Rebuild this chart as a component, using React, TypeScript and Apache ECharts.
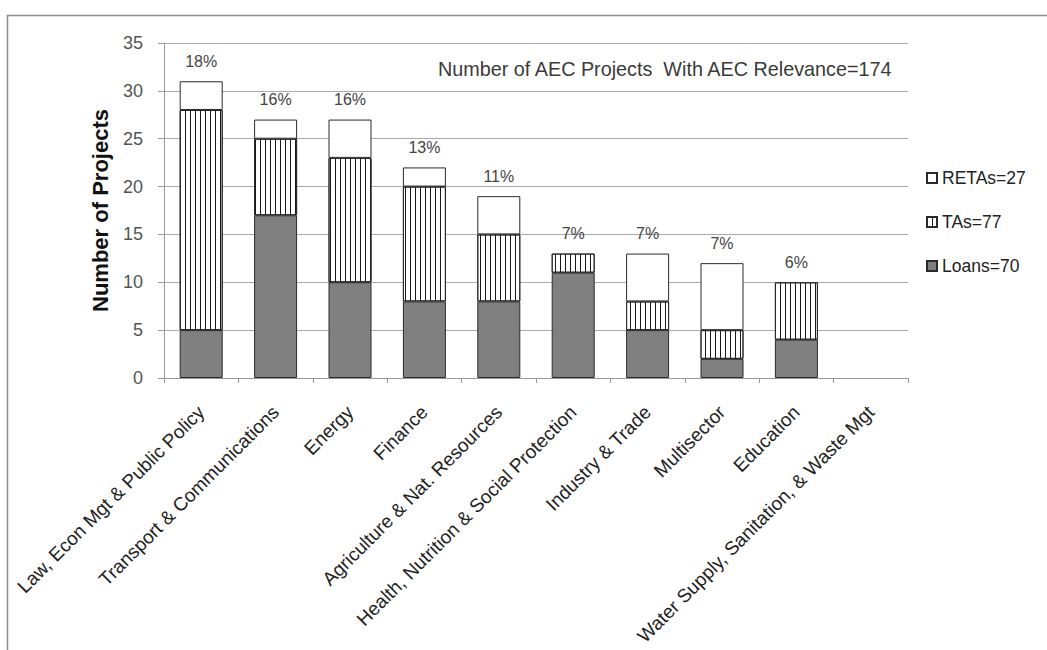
import React, { useEffect, useRef } from "react";
import * as echarts from "echarts";

// Sectors, in the order they are plotted
const sectors: string[] = [
  "Law, Econ Mgt & Public Policy",
  "Transport & Communications",
  "Energy",
  "Finance",
  "Agriculture & Nat. Resources",
  "Health, Nutrition & Social Protection",
  "Industry & Trade",
  "Multisector",
  "Education",
  "Water Supply, Sanitation, & Waste Mgt",
];

// Project counts per sector, by type
const loans: number[] = [5, 17, 10, 8, 8, 11, 5, 2, 4, 0];
const tas: number[] = [23, 8, 13, 12, 7, 2, 3, 3, 6, 0];
const retas: number[] = [3, 2, 4, 2, 4, 0, 5, 7, 0, 0];

// Value axis ticks
const yTicks: number[] = [0, 5, 10, 15, 20, 25, 30, 35];

const sum = (a: number[]) => a.reduce((s, v) => s + v, 0);
const totals = sectors.map((_, i) => loans[i] + tas[i] + retas[i]);
const grandTotal = sum(totals);

const FONT = "Liberation Sans, Arial, sans-serif";
const EDGE = "#2a2a2a";

// zero-height segments get no outline so they leave no stray line on the axis
const withEdges = (vals: number[]) =>
  vals.map((v) => (v === 0 ? { value: v, itemStyle: { borderWidth: 0 } } : v));

export default function App() {
  const ref = useRef<HTMLDivElement>(null);

  useEffect(() => {
    if (!ref.current) return;
    const chart = echarts.init(ref.current, null, { renderer: "svg" });

    const loansName = `Loans=${sum(loans)}`;
    const tasName = `TAs=${sum(tas)}`;
    const retasName = `RETAs=${sum(retas)}`;

    chart.setOption({
      animation: false,
      backgroundColor: "#ffffff",
      textStyle: { fontFamily: FONT },
      grid: { left: 164, right: 139, top: 43, bottom: 272, containLabel: false },
      legend: {
        orient: "vertical",
        left: 921,
        top: 164,
        itemWidth: 10,
        itemHeight: 10,
        itemGap: 26,
        icon: "rect",
        data: [retasName, tasName, loansName],
        textStyle: { fontSize: 17.5, color: "#222", fontFamily: FONT },
      },
      xAxis: {
        type: "category",
        data: sectors,
        axisLine: { lineStyle: { color: "#999", width: 1 } },
        axisTick: { show: true, length: 5, lineStyle: { color: "#999" } },
        axisLabel: {
          rotate: 45,
          interval: 0,
          margin: 31,
          fontSize: 19,
          color: "#222",
          fontFamily: FONT,
        },
        splitLine: { show: false },
      },
      yAxis: {
        type: "value",
        min: yTicks[0],
        max: yTicks[yTicks.length - 1],
        interval: yTicks[1] - yTicks[0],
        name: "Number of Projects",
        nameLocation: "middle",
        nameGap: 53,
        nameTextStyle: { fontSize: 22, fontWeight: "bold", color: "#111", fontFamily: FONT },
        axisLine: { show: true, lineStyle: { color: "#999", width: 1 } },
        axisTick: { show: true, length: 6, lineStyle: { color: "#999" } },
        axisLabel: { fontSize: 18, color: "#555", margin: 21, fontFamily: FONT },
        splitLine: { show: true, lineStyle: { color: "#aaa", width: 1 } },
      },
      series: [
        {
          name: loansName,
          type: "bar",
          stack: "projects",
          barWidth: 43,
          data: withEdges(loans),
          itemStyle: { color: "#808080", borderColor: EDGE, borderWidth: 1 },
        },
        {
          name: tasName,
          type: "bar",
          stack: "projects",
          barWidth: 43,
          data: withEdges(tas),
          itemStyle: {
            color: "#ffffff",
            borderColor: EDGE,
            borderWidth: 1,
            decal: {
              symbol: "rect",
              symbolSize: 1,
              color: "#1a1a1a",
              dashArrayX: [1, 4],
              dashArrayY: [10, 0],
              rotation: 0,
            },
          },
        },
        {
          name: retasName,
          type: "bar",
          stack: "projects",
          barWidth: 43,
          data: withEdges(retas),
          itemStyle: { color: "#ffffff", borderColor: EDGE, borderWidth: 1 },
          label: {
            show: true,
            position: "top",
            distance: 12,
            fontSize: 16,
            color: "#444",
            fontFamily: FONT,
            formatter: (p: any) => {
              const t = totals[p.dataIndex];
              return t > 0 ? `${Math.round((t / grandTotal) * 100)}%` : "";
            },
          },
        },
      ],
      graphic: [
        {
          type: "rect",
          left: 5,
          top: 13,
          z: -10,
          shape: { width: 1100, height: 700 },
          style: { fill: "none", stroke: "#8c8c8c", lineWidth: 1.5 },
        },
        {
          type: "text",
          left: 438,
          top: 59,
          style: {
            text: `Number of AEC Projects  With AEC Relevance=${grandTotal}`,
            fontSize: 19.8,
            fill: "#3a3a3a",
            fontFamily: FONT,
          },
        },
      ],
    });

    return () => chart.dispose();
  }, []);

  return (
    <div
      ref={ref}
      style={{ position: "fixed", left: 0, top: 0, width: 1047, height: 650 }}
    />
  );
}
